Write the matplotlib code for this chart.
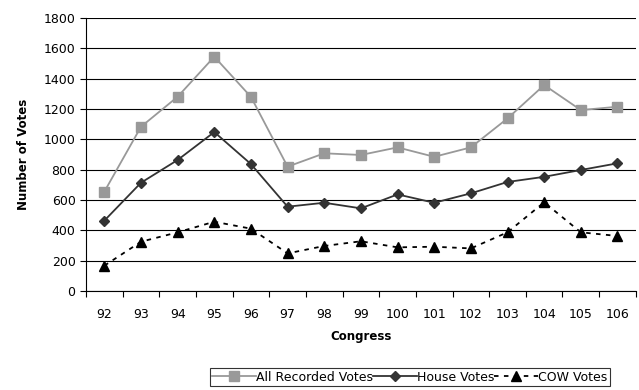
import numpy as np
import matplotlib
matplotlib.use('Agg')
import matplotlib.pyplot as plt

congress = ['92', '93', '94', '95', '96', '97', '98', '99', '100', '101',
            '102', '103', '104', '105', '106']
all_votes = [655, 1083, 1281, 1545, 1280, 820, 908, 897, 947, 885,
             947, 1138, 1358, 1193, 1215]
house_votes = [464, 714, 864, 1048, 837, 556, 582, 545, 637, 582,
               644, 719, 753, 798, 842]
cow_votes = [167, 325, 387, 457, 411, 248, 297, 328, 288, 292,
             281, 387, 585, 387, 363]

plt.rcParams['font.family'] = ['DejaVu Sans']

fig = plt.figure(figsize=(6.39, 3.9), dpi=100)
ax = fig.add_axes([0.1346, 0.2538, 0.8604, 0.7000])

x = np.arange(len(congress))
ax.plot(x, all_votes, color='#999999', lw=1.3, marker='s', markersize=7.5,
        label='All Recorded Votes')
ax.plot(x, house_votes, color='#333333', lw=1.3, marker='D', markersize=5.5,
        label='House Votes')
ax.plot(x, cow_votes, color='black', lw=1.3, ls=(0, (2.5, 3)), marker='^',
        markersize=7.5, label='COW Votes')

ax.set_ylim(0, 1800)
ax.set_yticks(np.arange(0, 1801, 200))
ax.yaxis.grid(True, color='black', lw=0.8)
ax.set_axisbelow(True)

ax.set_xlim(-0.5, len(congress) - 0.5)
ax.set_xticks(x)
ax.set_xticklabels(congress)
ax.set_xticks(np.arange(-0.5, len(congress), 1), minor=True)
ax.tick_params(axis='x', which='major', length=0, pad=12)
ax.tick_params(axis='x', which='minor', length=4, width=0.8)
ax.tick_params(axis='y', length=4, width=0.8)
ax.tick_params(labelsize=9)

for s in ['top', 'right']:
    ax.spines[s].set_visible(False)
ax.spines['left'].set_color('black')
ax.spines['bottom'].set_color('black')
ax.spines['left'].set_linewidth(0.8)
ax.spines['bottom'].set_linewidth(0.8)

ax.set_ylabel('Number of Votes', fontsize=8.5, fontweight='bold', labelpad=10)
ax.set_xlabel('Congress', fontsize=8.5, fontweight='bold', labelpad=7)

leg = ax.legend(loc='upper center', bbox_to_anchor=(0.589, -0.282), ncol=3,
                frameon=True, fancybox=False, edgecolor='black', fontsize=9,
                handlelength=3.5, handletextpad=0.0, columnspacing=0.0,
                borderpad=0.2, borderaxespad=0)
leg.get_frame().set_linewidth(0.8)

fig.savefig('out.png', dpi=100)
